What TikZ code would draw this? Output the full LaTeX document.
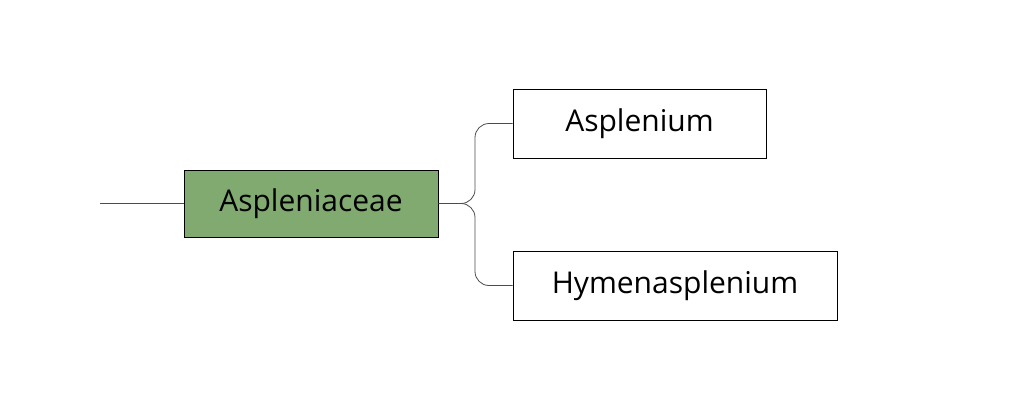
\documentclass[tikz,border=0pt]{standalone}
\usepackage{fontspec}
\setmainfont{Open Sans}
\begin{document}
\begin{tikzpicture}[x=1pt,y=-1pt,
  box/.style={draw=black,line width=1pt,inner sep=0pt,font=\fontsize{30}{36}\selectfont},
  link/.style={draw=black!70,line width=0.8pt,rounded corners=14pt}]
\useasboundingbox (0,0) rectangle (1024,400);
\definecolor{fam}{HTML}{80AA6F}
\node[box,fill=fam,minimum width=254pt,minimum height=67pt] (root) at (311,203.5) {Aspleniaceae};
\node[box,fill=white,minimum width=253pt,minimum height=69pt] (a) at (639.5,123.5) {Asplenium};
\node[box,fill=white,minimum width=324pt,minimum height=69pt] (h) at (675,285.5) {Hymenasplenium};
\coordinate (start) at (100,203.5);
\draw[link] (start) -- (root.west);
\draw[link] (root.east) -- (475,203.5) |- (a.west);
\draw[link] (root.east) -- (475,203.5) |- (h.west);
\end{tikzpicture}
\end{document}
